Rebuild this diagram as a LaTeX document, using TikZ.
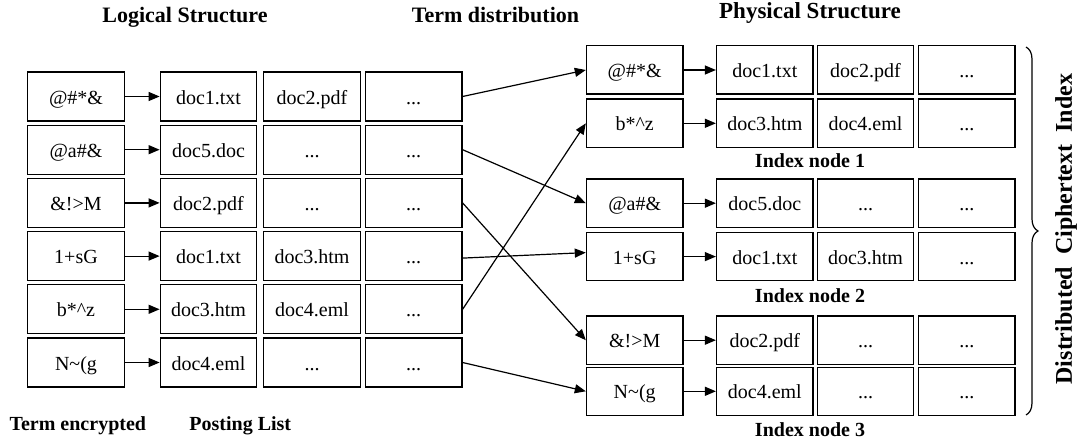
\documentclass[tikz,border=0pt]{standalone}
\usepackage{fontspec}
\setmainfont{Liberation Serif}
\usetikzlibrary{arrows.meta,decorations.pathreplacing}
\newcommand\mydots{...}
\begin{document}
\begin{tikzpicture}[x=1pt,y=-1pt,
  box/.style={draw, line width=1.3pt, inner sep=0pt, minimum width=96.5pt, text height=16pt, text depth=1pt, font=\fontsize{20}{24}\selectfont},
  lbox/.style={box, minimum height=49pt},
  rbox/.style={box, minimum height=48.3pt},
  arr/.style={line width=1.2pt, -{Triangle[length=11pt,width=9pt]}},
  head/.style={font=\fontsize{22}{26}\selectfont\bfseries, anchor=base},
  lab/.style={font=\fontsize{20}{24}\selectfont\bfseries, anchor=base}
]
\useasboundingbox (0,0) rectangle (1080,444);

% headings
\node[head] (h1) at (185,22.7) {Logical Structure};
\node[head] (h2) at (495.5,22.7) {Term distribution};
\node[head, font=\fontsize{23}{27}\selectfont\bfseries] (h3) at (810,18.3) {Physical Structure};
\node[lab] (b1) at (77.8,430) {Term encrypted};
\node[lab] (b2) at (240.3,430) {Posting List};

% left (logical) table
\node[lbox] (L1t) at (76,96.5) {@\#*\&};
\node[lbox] (L1a) at (208.5,96.5) {doc1.txt};
\node[lbox] (L1b) at (312,96.5) {doc2.pdf};
\node[lbox] (L1c) at (413.7,96.5) {\mydots};

\node[lbox] (L2t) at (76,149.7) {@a\#\&};
\node[lbox] (L2a) at (208.5,149.7) {doc5.doc};
\node[lbox] (L2b) at (312,149.7) {\mydots};
\node[lbox] (L2c) at (413.7,149.7) {\mydots};

\node[lbox] (L3t) at (76,202.9) {\&!>M};
\node[lbox] (L3a) at (208.5,202.9) {doc2.pdf};
\node[lbox] (L3b) at (312,202.9) {\mydots};
\node[lbox] (L3c) at (413.7,202.9) {\mydots};

\node[lbox] (L4t) at (76,256.1) {1+sG};
\node[lbox] (L4a) at (208.5,256.1) {doc1.txt};
\node[lbox] (L4b) at (312,256.1) {doc3.htm};
\node[lbox] (L4c) at (413.7,256.1) {\mydots};

\node[lbox] (L5t) at (76,309.3) {b*\textasciicircum z};
\node[lbox] (L5a) at (208.5,309.3) {doc3.htm};
\node[lbox] (L5b) at (312,309.3) {doc4.eml};
\node[lbox] (L5c) at (413.7,309.3) {\mydots};

\node[lbox] (L6t) at (76,362.5) {N\textasciitilde(g};
\node[lbox] (L6a) at (208.5,362.5) {doc4.eml};
\node[lbox] (L6b) at (312,362.5) {\mydots};
\node[lbox] (L6c) at (413.7,362.5) {\mydots};

% right (physical) table
\node[rbox] (R1t) at (634.7,70) {@\#*\&};
\node[rbox] (R1a) at (764.8,70) {doc1.txt};
\node[rbox] (R1b) at (865.5,70) {doc2.pdf};
\node[rbox] (R1c) at (966.8,70) {\mydots};

\node[rbox] (R2t) at (634.7,123.3) {b*\textasciicircum z};
\node[rbox] (R2a) at (764.8,123.3) {doc3.htm};
\node[rbox] (R2b) at (865.5,123.3) {doc4.eml};
\node[rbox] (R2c) at (966.8,123.3) {\mydots};

\node[rbox] (R3t) at (634.7,203.2) {@a\#\&};
\node[rbox] (R3a) at (764.8,203.2) {doc5.doc};
\node[rbox] (R3b) at (865.5,203.2) {\mydots};
\node[rbox] (R3c) at (966.8,203.2) {\mydots};

\node[rbox] (R4t) at (634.7,256.6) {1+sG};
\node[rbox] (R4a) at (764.8,256.6) {doc1.txt};
\node[rbox] (R4b) at (865.5,256.6) {doc3.htm};
\node[rbox] (R4c) at (966.8,256.6) {\mydots};

\node[rbox] (R5t) at (634.7,340.2) {\&!>M};
\node[rbox] (R5a) at (764.8,340.2) {doc2.pdf};
\node[rbox] (R5b) at (865.5,340.2) {\mydots};
\node[rbox] (R5c) at (966.8,340.2) {\mydots};

\node[rbox] (R6t) at (634.7,391.3) {N\textasciitilde(g};
\node[rbox] (R6a) at (764.8,391.3) {doc4.eml};
\node[rbox] (R6b) at (865.5,391.3) {\mydots};
\node[rbox] (R6c) at (966.8,391.3) {\mydots};

\node[lab] (i1) at (810,167.3) {Index node 1};
\node[lab] (i2) at (810,302.7) {Index node 2};
\node[lab] (i3) at (810,436.7) {Index node 3};

% term -> posting list arrows
\foreach \r in {L1,L2,L3,L4,L5,L6,R1,R2,R3,R4,R5,R6}
  \draw[arr] (\r t.east) -- (\r a.west);

% term distribution
\draw[arr] (L1c.east) -- (R1t.west);
\draw[arr] (L2c.east) -- (R3t.west);
\draw[arr] (L3c.east) -- (R5t.west);
\draw[arr] ([yshift=-2pt]L4c.east) -- ([yshift=4pt]R4t.west);
\draw[arr] (L5c.east) -- (R2t.west);
\draw[arr] (L6c.east) -- (R6t.west);

% brace and side label
\coordinate (bt) at (1026,47);
\coordinate (bb) at (1026,415);
\draw[line width=1.2pt, decorate, decoration={brace, amplitude=12pt}] (bt) -- (bb);
\node[rotate=90, font=\fontsize{24}{28}\selectfont\bfseries] (dci) at (1066,229)
  {Distributed\hspace{0.5em}Ciphertext\hspace{0.5em}Index};
\end{tikzpicture}
\end{document}
